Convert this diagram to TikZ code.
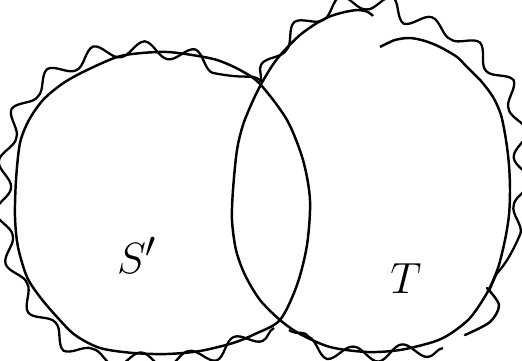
\documentclass[tikz,border=0pt]{standalone}
\usepackage{tikz}
\usetikzlibrary{
  decorations.pathmorphing,
  positioning
}
\tikzset{
  outline/.style={line width=1.4pt, black, line join=round},
  wavy/.style={
    line width=1.3pt, black, line join=round,
    decorate, decoration={snake, segment length=1.0cm,
      amplitude=0.15cm}
  },
  scribble/.style={line width=1.4pt, black, line cap=round},
  setlabel/.style={font=\fontsize{30}{34}\selectfont}
}

\begin{document}
\begin{tikzpicture}[x=0.02cm, y=-0.02cm]
\useasboundingbox (0,0) rectangle (522,361);

% set S' (left blob)
\draw[outline] plot[smooth cycle] coordinates {
  (167,52) (192,55) (217,60) (240,70) (260,84) (287,120) (303,160)
  (310,200) (307,245) (297,285) (280,320) (255,334) (233,343)
  (200,351) (167,354) (133,353) (100,348) (75,335) (57,317) (40,297)
  (27,277) (18,247) (15,217) (16,180) (20,143) (29,120) (43,100)
  (62,84) (83,72) (117,57) (142,53)};

% set T (right blob), open at the top
\draw[outline] plot[smooth] coordinates {
  (380,47) (395,40) (410,38) (425,41) (440,47) (457,57) (467,67)
  (481,81) (493,97) (501,115) (506,140) (509,165) (510,190) (509,215)
  (505,240) (498,268) (487,293) (470,318) (450,334) (433,342)
  (400,350) (367,352) (330,347) (300,334) (280,320) (260,300)
  (245,275) (236,250) (232,220) (233,190) (237,150) (244,122)
  (258,90) (272,66) (283,52) (300,35) (317,23) (331,16) (345,12)
  (358,10) (368,12) (373,16)};

% wiggly borders
\draw[wavy] (274,328) -- (234,345) -- (200,352) -- (167,355) -- (133,354)
  -- (99,350) -- (74,337) -- (55,319) -- (38,298) -- (25,278) -- (16,248)
  -- (13,217) -- (14,180) -- (18,142) -- (27,119) -- (41,98) -- (60,82)
  -- (82,70) -- (116,55) -- (141,51) -- (167,50) -- (192,53) -- (217,58)
  -- (241,68) -- (263,82);
\draw[wavy] (260,82) -- (270,64) -- (282,48) -- (299,32) -- (316,20)
  -- (330,14) -- (344,10) -- (358,9) -- (370,10) -- (383,19) -- (395,28)
  -- (408,34) -- (420,38) -- (434,42) -- (446,46) -- (458,55) -- (468,65)
  -- (482,80) -- (494,94) -- (500,106) -- (505,119) -- (508,140)
  -- (510,160) -- (512,190) -- (511,203) -- (510,218) -- (507,237)
  -- (501,256) -- (496,274) -- (489,291);
\draw[wavy] (443,348) -- (422,350) -- (400,352) -- (383,354) -- (367,354)
  -- (347,352) -- (329,349) -- (309,342) -- (289,330);

% stray stroke at the lower right
\draw[scribble] plot[smooth] coordinates {
  (487,288) (499,305) (490,322) (465,335)};

\node[setlabel] (labelS) at (137,255) {$S'$};
\node[setlabel] (labelT) at (406,279) {$T$};
\end{tikzpicture}
\end{document}
